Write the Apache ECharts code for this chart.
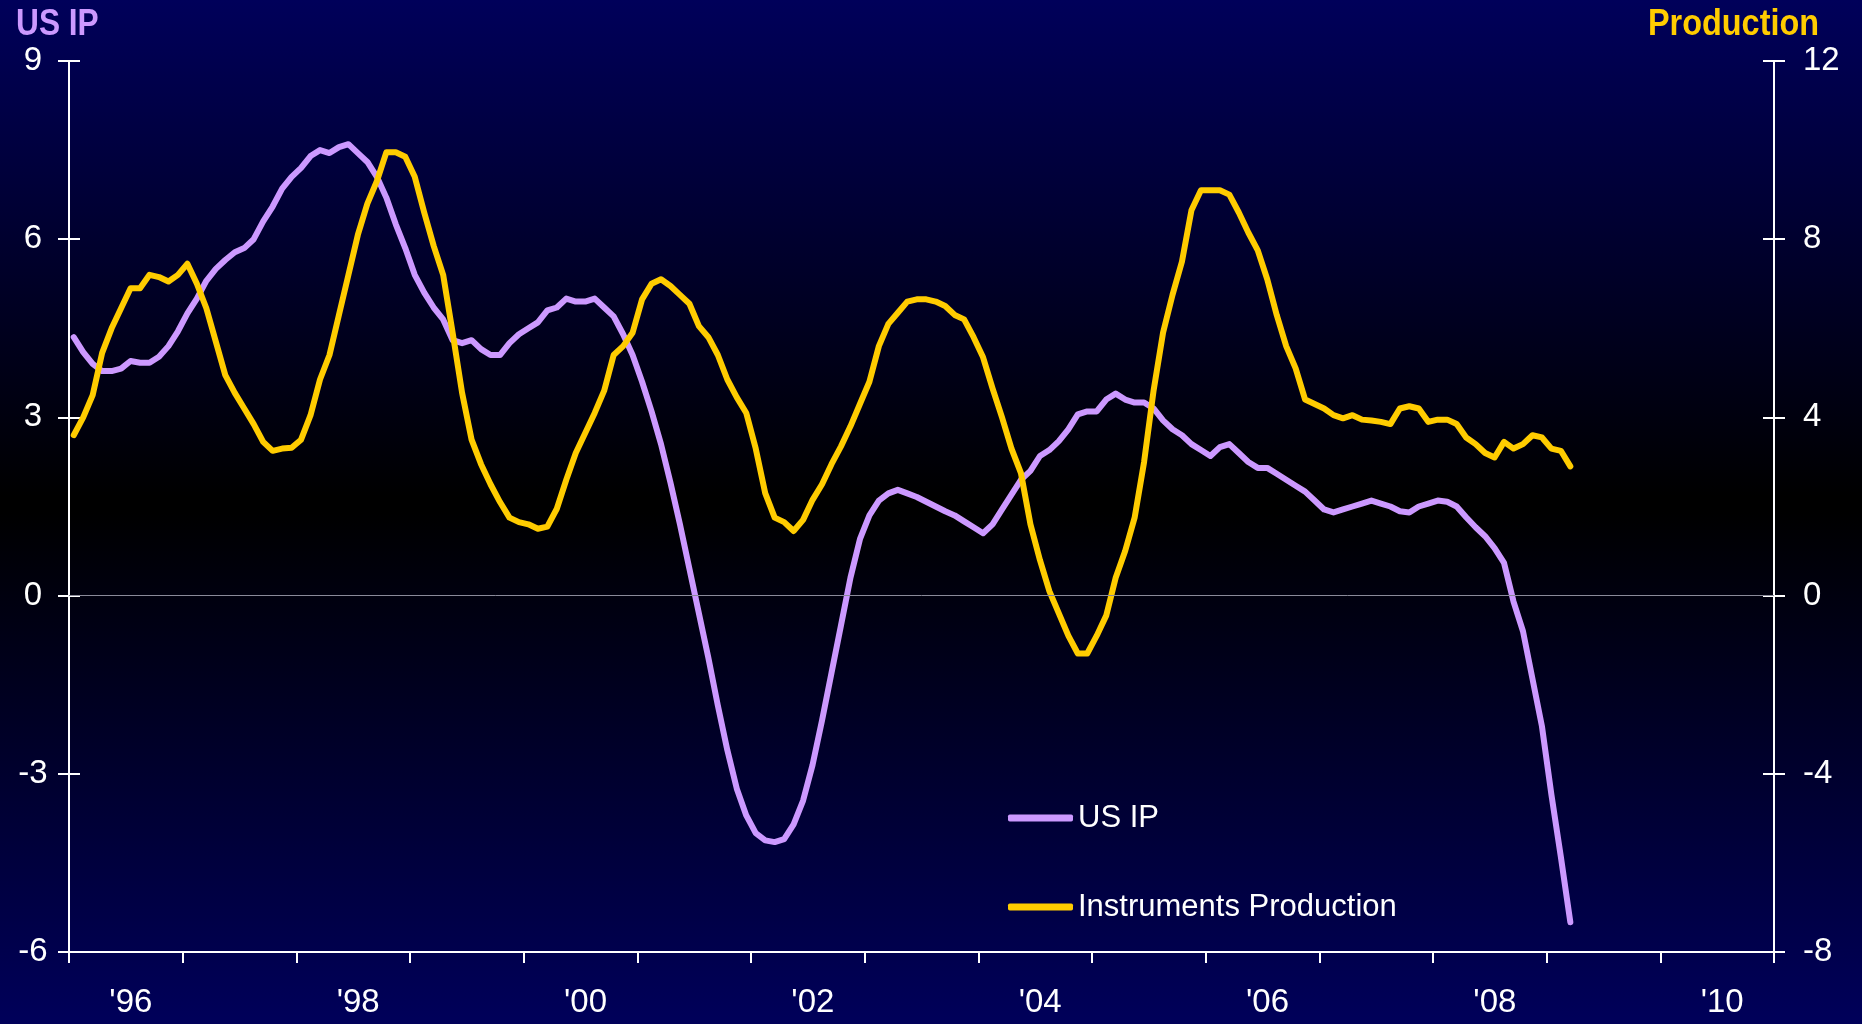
<!DOCTYPE html>
<html>
<head>
<meta charset="utf-8">
<script src="https://cdn.jsdelivr.net/npm/echarts@6/dist/echarts.min.js"></script>
<style>
html,body{margin:0;padding:0;}
#chart{width:1862px;height:1024px;background:linear-gradient(to bottom,#00005a 0%,#000000 48.5%,#000000 50%,#00005a 100%);}
</style>
</head>
<body>
<div id="chart"></div>
<script>
// Calendar years shown on the bottom axis (one category per year)
const years = ['1996','1997','1998','1999','2000','2001','2002','2003','2004','2005','2006','2007','2008','2009','2010'];
// Left axis ticks (US IP) and right axis ticks (Instruments Production)
const leftTicks = [-6, -3, 0, 3, 6, 9];
const rightTicks = [-8, -4, 0, 4, 8, 12];
// Monthly values, Jan 1996 .. Mar 2009
const usIP = [
  4.35, 4.1, 3.9, 3.78, 3.78, 3.82, 3.95, 3.92, 3.92, 4.02, 4.2, 4.45,
  4.75, 5.0, 5.3, 5.5, 5.65, 5.78, 5.85, 6.0, 6.3, 6.55, 6.85, 7.05,
  7.2, 7.4, 7.5, 7.45, 7.55, 7.6, 7.45, 7.3, 7.05, 6.7, 6.25, 5.85,
  5.4, 5.1, 4.85, 4.65, 4.3, 4.25, 4.3, 4.15, 4.05, 4.05, 4.25, 4.4,
  4.5, 4.6, 4.8, 4.85, 5.0, 4.95, 4.95, 5.0, 4.85, 4.7, 4.4, 4.05,
  3.6, 3.1, 2.55, 1.9, 1.2, 0.45, -0.3, -1.05, -1.85, -2.6, -3.25, -3.7,
  -4.0, -4.12, -4.15, -4.1, -3.85, -3.45, -2.85, -2.1, -1.3, -0.5, 0.3, 0.95,
  1.35, 1.6, 1.72, 1.78, 1.72, 1.66, 1.58, 1.5, 1.42, 1.35, 1.25, 1.15,
  1.05, 1.2, 1.45, 1.7, 1.95, 2.1, 2.35, 2.45, 2.6, 2.8, 3.05, 3.1,
  3.1, 3.3, 3.4, 3.3, 3.25, 3.25, 3.15, 2.95, 2.8, 2.7, 2.55, 2.45,
  2.35, 2.5, 2.55, 2.4, 2.25, 2.15, 2.15, 2.05, 1.95, 1.85, 1.75, 1.6,
  1.45, 1.4, 1.45, 1.5, 1.55, 1.6, 1.55, 1.5, 1.42, 1.4, 1.5, 1.55,
  1.6, 1.58, 1.5, 1.32, 1.15, 1.0, 0.8, 0.55, -0.1, -0.6, -1.4, -2.2,
  -3.35, -4.4, -5.5
];
const instruments = [
  3.6, 4.0, 4.5, 5.45, 6.0, 6.45, 6.9, 6.9, 7.2, 7.15, 7.05, 7.2,
  7.45, 7.0, 6.45, 5.7, 4.95, 4.55, 4.2, 3.85, 3.45, 3.25, 3.3, 3.32,
  3.5, 4.05, 4.85, 5.4, 6.3, 7.2, 8.1, 8.8, 9.3, 9.95, 9.95, 9.85,
  9.4, 8.6, 7.85, 7.2, 5.9, 4.55, 3.5, 2.95, 2.5, 2.1, 1.75, 1.65,
  1.6, 1.5, 1.55, 1.95, 2.6, 3.2, 3.65, 4.1, 4.6, 5.4, 5.6, 5.9,
  6.65, 7.0, 7.1, 6.95, 6.75, 6.55, 6.05, 5.8, 5.4, 4.85, 4.45, 4.1,
  3.3, 2.3, 1.75, 1.65, 1.45, 1.7, 2.15, 2.5, 2.95, 3.35, 3.8, 4.3,
  4.8, 5.6, 6.1, 6.35, 6.6, 6.65, 6.65, 6.6, 6.5, 6.3, 6.2, 5.8,
  5.35, 4.65, 4.0, 3.3, 2.75, 1.6, 0.8, 0.1, -0.4, -0.9, -1.3, -1.3,
  -0.9, -0.45, 0.4, 1.0, 1.75, 3.0, 4.6, 5.9, 6.75, 7.5, 8.65, 9.1,
  9.1, 9.1, 9.0, 8.6, 8.15, 7.75, 7.1, 6.3, 5.6, 5.1, 4.4, 4.3,
  4.2, 4.05, 3.98, 4.05, 3.95, 3.93, 3.9, 3.85, 4.2, 4.25, 4.2, 3.9,
  3.95, 3.95, 3.85, 3.55, 3.4, 3.2, 3.1, 3.45, 3.3, 3.4, 3.6, 3.55,
  3.3, 3.25, 2.9
];

const FONT = "'Liberation Sans', Arial, sans-serif";
const chart = echarts.init(document.getElementById('chart'), null, {renderer: 'canvas'});
const toPairs = arr => arr.map((v, i) => [i + 0.5, v]);

const baseY = (pos, ticks, labels, inside) => ({
  type: 'value', position: pos,
  min: ticks[0], max: ticks[ticks.length - 1], interval: ticks[1] - ticks[0],
  axisLine: {show: labels, onZero: false, lineStyle: {color: '#ffffff', width: 2}},
  axisTick: {show: true, inside: inside, length: 11, lineStyle: {color: '#ffffff', width: 2}},
  axisLabel: pos === 'left'
    ? {show: labels, color: '#ffffff', fontSize: 33, fontFamily: FONT, margin: 36, align: 'center'}
    : {show: labels, color: '#ffffff', fontSize: 33, fontFamily: FONT, margin: 29},
  splitLine: {show: false}
});

chart.setOption({
  backgroundColor: 'transparent',
  animation: false,
  grid: {left: 69, right: 88, top: 61, bottom: 72, containLabel: false},
  graphic: [
    {type: 'text', x: 16, y: 7, scaleX: 0.88,
     style: {text: 'US IP', fill: '#CC99FF', font: 'bold 36px ' + FONT, textAlign: 'left', textVerticalAlign: 'top'}},
    {type: 'text', x: 1819, y: 7, scaleX: 0.9,
     style: {text: 'Production', fill: '#FFCC00', font: 'bold 36px ' + FONT, textAlign: 'right', textVerticalAlign: 'top'}}
  ],
  legend: {
    orient: 'vertical', left: 1003, top: 797, itemGap: 57,
    itemWidth: 65, itemHeight: 7, icon: 'roundRect',
    textStyle: {color: '#ffffff', fontSize: 31, fontFamily: FONT, lineHeight: 32},
    data: ['US IP', 'Instruments Production']
  },
  xAxis: [
    {type: 'category', data: years, boundaryGap: true, position: 'bottom',
     axisLine: {onZero: false, lineStyle: {color: '#ffffff', width: 2}},
     axisTick: {show: true, interval: 0, length: 11, lineStyle: {color: '#ffffff', width: 2}},
     axisLabel: {interval: 1, color: '#ffffff', fontSize: 33, fontFamily: FONT, margin: 34,
                 formatter: y => "'" + y.slice(2), padding: [0, 0, 0, 10]},
     splitLine: {show: false}},
    {type: 'value', min: 0, max: years.length * 12, show: false}
  ],
  yAxis: [
    baseY('left', leftTicks, true, false),
    baseY('right', rightTicks, true, false),
    baseY('left', leftTicks, false, true),
    baseY('right', rightTicks, false, true)
  ],
  series: [
    {name: 'US IP', type: 'line', xAxisIndex: 1, yAxisIndex: 0, data: toPairs(usIP),
     showSymbol: false, symbol: 'none', color: '#CC99FF',
     lineStyle: {color: '#CC99FF', width: 6, join: 'round', cap: 'round'},
     markLine: {silent: true, symbol: 'none', label: {show: false},
       lineStyle: {color: '#8a8a99', width: 1, type: 'solid'}, data: [{yAxis: 0}]}},
    {name: 'Instruments Production', type: 'line', xAxisIndex: 1, yAxisIndex: 1, data: toPairs(instruments),
     showSymbol: false, symbol: 'none', color: '#FFCC00',
     lineStyle: {color: '#FFCC00', width: 6, join: 'round', cap: 'round'}}
  ]
});
</script>
</body>
</html>
